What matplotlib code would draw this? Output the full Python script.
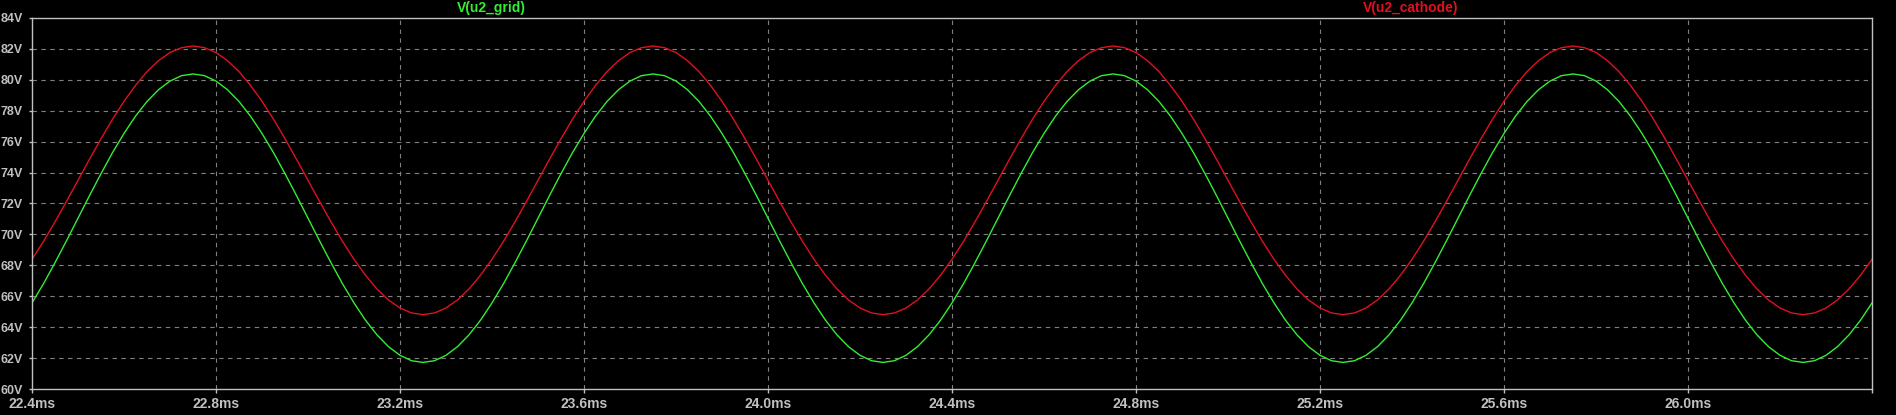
import numpy as np
import matplotlib
matplotlib.use("Agg")
import matplotlib.pyplot as plt

# time axis (ms), sampled every 0.025 ms
t_start, t_stop, n_pts = 22.4, 26.4, 161

# V(u2_grid), volts
grid_v = [
    65.57, 66.81, 68.17, 69.59, 71.05, 72.51, 73.93, 75.29, 76.53, 77.65,
    78.60, 79.36, 79.92, 80.27, 80.38, 80.27, 79.92, 79.36, 78.60, 77.65,
    76.53, 75.29, 73.93, 72.51, 71.05, 69.59, 68.17, 66.81, 65.57, 64.45,
    63.50, 62.74, 62.18, 61.83, 61.72, 61.83, 62.18, 62.74, 63.50, 64.45,
    65.57, 66.81, 68.17, 69.59, 71.05, 72.51, 73.93, 75.29, 76.53, 77.65,
    78.60, 79.36, 79.92, 80.27, 80.38, 80.27, 79.92, 79.36, 78.60, 77.65,
    76.53, 75.29, 73.93, 72.51, 71.05, 69.59, 68.17, 66.81, 65.57, 64.45,
    63.50, 62.74, 62.18, 61.83, 61.72, 61.83, 62.18, 62.74, 63.50, 64.45,
    65.57, 66.81, 68.17, 69.59, 71.05, 72.51, 73.93, 75.29, 76.53, 77.65,
    78.60, 79.36, 79.92, 80.27, 80.38, 80.27, 79.92, 79.36, 78.60, 77.65,
    76.53, 75.29, 73.93, 72.51, 71.05, 69.59, 68.17, 66.81, 65.57, 64.45,
    63.50, 62.74, 62.18, 61.83, 61.72, 61.83, 62.18, 62.74, 63.50, 64.45,
    65.57, 66.81, 68.17, 69.59, 71.05, 72.51, 73.93, 75.29, 76.53, 77.65,
    78.60, 79.36, 79.92, 80.27, 80.38, 80.27, 79.92, 79.36, 78.60, 77.65,
    76.53, 75.29, 73.93, 72.51, 71.05, 69.59, 68.17, 66.81, 65.57, 64.45,
    63.50, 62.74, 62.18, 61.83, 61.72, 61.83, 62.18, 62.74, 63.50, 64.45,
    65.57,
]

# V(u2_cathode), volts
cathode_v = [
    68.39, 69.55, 70.81, 72.14, 73.50, 74.86, 76.19, 77.45, 78.61, 79.64,
    80.53, 81.24, 81.77, 82.08, 82.19, 82.08, 81.77, 81.24, 80.53, 79.64,
    78.61, 77.45, 76.19, 74.86, 73.50, 72.14, 70.81, 69.55, 68.39, 67.36,
    66.47, 65.76, 65.24, 64.92, 64.81, 64.92, 65.24, 65.76, 66.47, 67.36,
    68.39, 69.55, 70.81, 72.14, 73.50, 74.86, 76.19, 77.45, 78.61, 79.64,
    80.53, 81.24, 81.77, 82.08, 82.19, 82.08, 81.77, 81.24, 80.53, 79.64,
    78.61, 77.45, 76.19, 74.86, 73.50, 72.14, 70.81, 69.55, 68.39, 67.36,
    66.47, 65.76, 65.24, 64.92, 64.81, 64.92, 65.24, 65.76, 66.47, 67.36,
    68.39, 69.55, 70.81, 72.14, 73.50, 74.86, 76.19, 77.45, 78.61, 79.64,
    80.53, 81.24, 81.77, 82.08, 82.19, 82.08, 81.77, 81.24, 80.53, 79.64,
    78.61, 77.45, 76.19, 74.86, 73.50, 72.14, 70.81, 69.55, 68.39, 67.36,
    66.47, 65.76, 65.24, 64.92, 64.81, 64.92, 65.24, 65.76, 66.47, 67.36,
    68.39, 69.55, 70.81, 72.14, 73.50, 74.86, 76.19, 77.45, 78.61, 79.64,
    80.53, 81.24, 81.77, 82.08, 82.19, 82.08, 81.77, 81.24, 80.53, 79.64,
    78.61, 77.45, 76.19, 74.86, 73.50, 72.14, 70.81, 69.55, 68.39, 67.36,
    66.47, 65.76, 65.24, 64.92, 64.81, 64.92, 65.24, 65.76, 66.47, 67.36,
    68.39,
]

x_ticks = [22.4, 22.8, 23.2, 23.6, 24.0, 24.4, 24.8, 25.2, 25.6, 26.0]
y_ticks = [60, 62, 64, 66, 68, 70, 72, 74, 76, 78, 80, 82, 84]

GREEN = "#33ee33"
RED = "#e01020"
FG = "#c0c0c0"
GRIDC = "#808080"
FONT = "Liberation Sans"

t = np.linspace(t_start, t_stop, n_pts)

fig = plt.figure(figsize=(18.96, 4.15), dpi=100, facecolor="black")
ax = fig.add_axes([32 / 1896, 26 / 415, 1840 / 1896, 371 / 415], facecolor="black")

ax.plot(t, grid_v, color=GREEN, lw=1.0)
ax.plot(t, cathode_v, color=RED, lw=1.0)

ax.set_xlim(t_start, t_stop)
ax.set_ylim(60, 84)
ax.set_xticks(x_ticks + [t_stop])
ax.set_xticklabels([f"{v:.1f}ms" for v in x_ticks] + [""])
ax.set_yticks(y_ticks)
ax.set_yticklabels([f"{v}V" for v in y_ticks])

for v in x_ticks[1:]:
    ax.axvline(v, color=GRIDC, lw=0.8, ls=(0, (4, 4)), zorder=0)
for v in y_ticks[1:-1]:
    ax.axhline(v, color=GRIDC, lw=0.8, ls=(0, (4, 4)), zorder=0)

for s in ax.spines.values():
    s.set_color(FG)
    s.set_linewidth(1.0)
ax.tick_params(axis="x", colors=FG, length=3, width=1, labelsize=10, pad=3)
ax.tick_params(axis="y", colors=FG, length=2.5, width=1, labelsize=9, pad=4)
for lab in ax.get_xticklabels() + ax.get_yticklabels():
    lab.set_fontweight("bold")
    lab.set_family(FONT)

fig.text(491 / 1896, 1 - 8 / 415, "V(u2_grid)", color=GREEN, fontsize=10,
         fontweight="bold", family=FONT, ha="center", va="center")
fig.text(1411 / 1896, 1 - 8 / 415, "V(u2_cathode)", color=RED, fontsize=10,
         fontweight="bold", family=FONT, ha="center", va="center")

fig.savefig("out.png", dpi=100, facecolor="black")
